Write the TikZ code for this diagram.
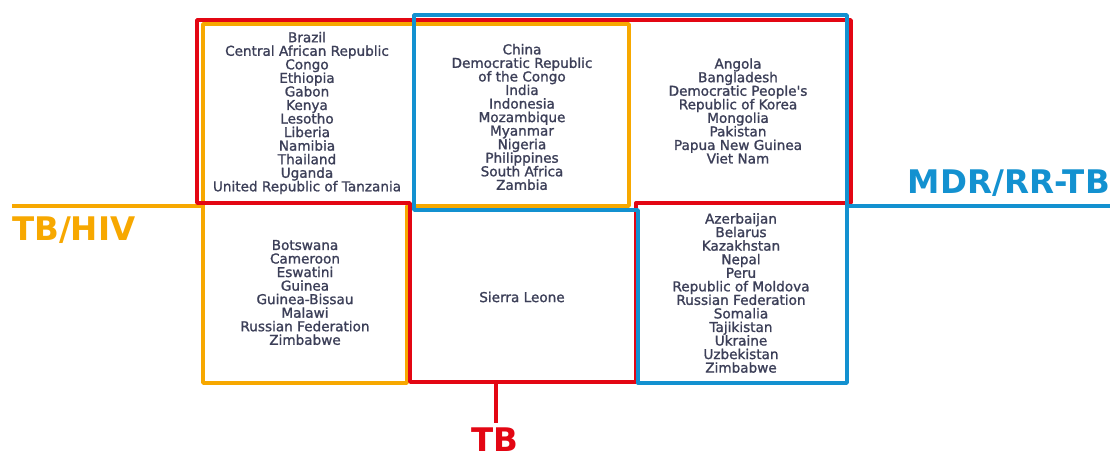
\documentclass[tikz,border=0pt]{standalone}
\usepackage{fontspec}
\setmainfont{DejaVu Sans}
\newfontfamily\cfont[FakeBold=1.3]{DejaVu Sans}
\definecolor{tbred}{HTML}{E30613}
\definecolor{hivorange}{HTML}{F7A800}
\definecolor{mdrblue}{HTML}{1391D0}
\definecolor{txtcol}{HTML}{3C3F58}
\tikzset{
  frame/.style={line width=3.4pt, line join=round, line cap=round},
  clist/.style={align=center, text=txtcol, font=\cfont\fontsize{13.6}{13.55}\selectfont, inner sep=0pt},
  biglabel/.style={font=\bfseries\fontsize{32.5}{36}\selectfont, inner sep=0pt}
}
\begin{document}
\begin{tikzpicture}[x=1pt,y=-1pt]
\useasboundingbox[fill=white] (0,0) rectangle (1110,455);
% TB/HIV (orange)
\draw[frame,hivorange] (203,24) -- (629,24) -- (629,206) -- (407,206) -- (407,383) -- (203,383) -- cycle;
\coordinate (hivjoin) at (203,206);
\coordinate (hivend) at (12,206);
\draw[frame,hivorange,line cap=butt] (hivjoin) -- (hivend);
% TB (red)
\draw[frame,tbred] (197,20) -- (851,20) -- (851,203) -- (636,203) -- (636,382) -- (410,382) -- (410,203) -- (197,203) -- cycle;
\coordinate (tbjoin) at (496,382);
\coordinate (tbend) at (496,423);
\draw[frame,tbred,line cap=butt] (tbjoin) -- (tbend);
% MDR/RR-TB (blue)
\draw[frame,mdrblue] (414,15) -- (847,15) -- (847,383) -- (638,383) -- (638,210) -- (414,210) -- cycle;
\coordinate (mdrjoin) at (847,206);
\coordinate (mdrend) at (1110,206);
\draw[frame,mdrblue,line cap=butt] (mdrjoin) -- (mdrend);
% labels
\node[biglabel,text=hivorange,anchor=west] (lhiv) at (12,230) {TB/HIV};
\node[biglabel,text=mdrblue,anchor=east] (lmdr) at (1110,183) {MDR/RR-TB};
\node[biglabel,text=tbred,anchor=south] (ltb) at (495,452) {TB};
% country lists
\node[clist] (a) at (307,113) {Brazil\\Central African Republic\\Congo\\Ethiopia\\Gabon\\Kenya\\Lesotho\\Liberia\\Namibia\\Thailand\\Uganda\\United Republic of Tanzania};
\node[clist] (b) at (522,117) {China\\Democratic Republic\\of the Congo\\India\\Indonesia\\Mozambique\\Myanmar\\Nigeria\\Philippines\\South Africa\\Zambia};
\node[clist] (c) at (738,111) {Angola\\Bangladesh\\Democratic People's\\Republic of Korea\\Mongolia\\Pakistan\\Papua New Guinea\\Viet Nam};
\node[clist] (d) at (305,292.5) {Botswana\\Cameroon\\Eswatini\\Guinea\\Guinea-Bissau\\Malawi\\Russian Federation\\Zimbabwe};
\node[clist] (e) at (522,297) {Sierra Leone};
\node[clist] (f) at (741,293) {Azerbaijan\\Belarus\\Kazakhstan\\Nepal\\Peru\\Republic of Moldova\\Russian Federation\\Somalia\\Tajikistan\\Ukraine\\Uzbekistan\\Zimbabwe};
\end{tikzpicture}
\end{document}
